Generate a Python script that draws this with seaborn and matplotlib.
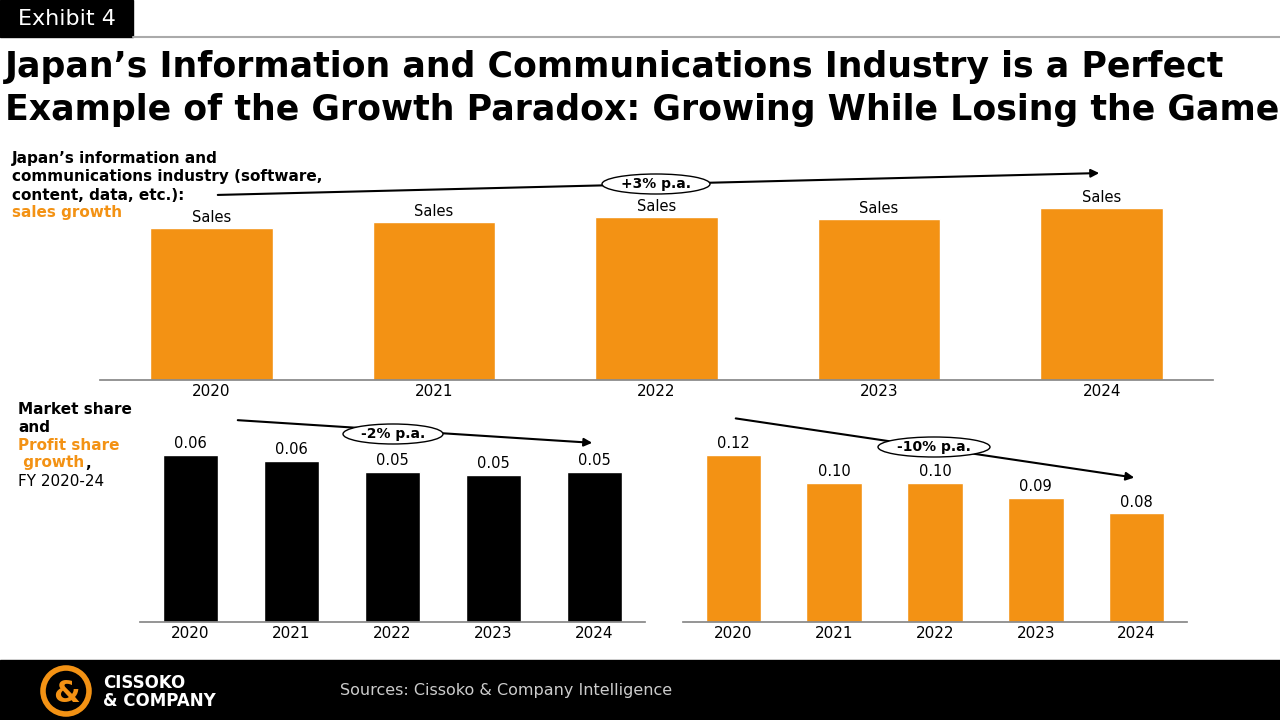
import matplotlib
matplotlib.use("Agg")
import matplotlib.pyplot as plt
import seaborn as sns
import pandas as pd
from matplotlib.patches import Ellipse, Rectangle

years = ["2020", "2021", "2022", "2023", "2024"]
sales_index = [152, 158, 163, 161, 172]
market_share = [0.060, 0.058, 0.054, 0.053, 0.054]
profit_share = [0.12, 0.10, 0.10, 0.089, 0.078]

orange = "#F39214"
sns.set_theme(style="white")
plt.rcParams["font.family"] = ["DejaVu Sans"]
plt.rcParams["text.color"] = "black"
plt.rcParams["xtick.color"] = "black"

W, H = 1280, 720
fig = plt.figure(figsize=(12.8, 7.2), dpi=100)


def box(x0, y0, x1, y1):
    return [x0 / W, 1 - y1 / H, (x1 - x0) / W, (y1 - y0) / H]


# overlay axes in pixel coordinates
ov = fig.add_axes([0, 0, 1, 1])
ov.set_xlim(0, W)
ov.set_ylim(H, 0)
ov.axis("off")

ov.add_patch(Rectangle((0, 0), 133, 37, color="black"))
ov.text(18, 19, "Exhibit 4", color="white", fontsize=16, va="center")
ov.plot([133, 1280], [37, 37], color="#aaaaaa", lw=1.5)
ov.text(5, 67, "Japan’s Information and Communications Industry is a Perfect",
        fontsize=25, fontweight="bold", va="center")
ov.text(5, 110, "Example of the Growth Paradox: Growing While Losing the Game",
        fontsize=25, fontweight="bold", va="center")

bold = dict(fontsize=11, fontweight="bold", va="center")
ov.text(12, 159, "Japan’s information and", **bold)
ov.text(12, 177, "communications industry (software,", **bold)
ov.text(12, 195, "content, data, etc.):", **bold)
ov.text(12, 213, "sales growth", color=orange, **bold)

ov.text(18, 409, "Market share", **bold)
ov.text(18, 427, "and", **bold)
ov.text(18, 445, "Profit share", color=orange, **bold)
ov.text(18, 463, " growth", color=orange, **bold)
ov.text(85, 463, ",", **bold)
ov.text(18, 481, "FY 2020-24", fontsize=11, va="center")

# footer
ov.add_patch(Rectangle((0, 660), W, 60, color="black"))
ov.add_patch(Ellipse((66, 691), 46, 46, fill=False, ec=orange, lw=4))
ov.text(66, 693, "&", color=orange, fontsize=22, fontweight="bold", ha="center", va="center")
ov.text(103, 683, "CISSOKO", color="white", fontsize=12, fontweight="bold", va="center")
ov.text(103, 701, "& COMPANY", color="white", fontsize=12, fontweight="bold", va="center")
ov.text(340, 691, "Sources: Cissoko & Company Intelligence", color="#cccccc", fontsize=11.5, va="center")


def bars(rect, values, color, ymax, labels):
    ax = fig.add_axes(rect)
    df = pd.DataFrame({"year": years, "v": values})
    sns.barplot(data=df, x="year", y="v", color=color, width=0.55, ax=ax, saturation=1)
    ax.set_ylim(0, ymax)
    ax.set_xlabel("")
    ax.set_ylabel("")
    ax.set_yticks([])
    for s in ["top", "left", "right"]:
        ax.spines[s].set_visible(False)
    ax.spines["bottom"].set_color("#888888")
    ax.tick_params(axis="x", labelsize=11, length=0, pad=3)
    for i, (v, lab) in enumerate(zip(values, labels)):
        ax.text(i, v + ymax * 0.015, lab, ha="center", va="bottom", fontsize=10.5)
    ax.patch.set_alpha(0)
    return ax


bars(box(100, 150, 1213, 380), sales_index, orange, 230, ["Sales"] * 5)
bars(box(140, 380, 645, 622), market_share, "black", 242 / 2783,
     [f"{v:.2f}" for v in market_share])
bars(box(683, 380, 1187, 622), profit_share, orange, 242 / 1392,
     [f"{v:.2f}" for v in profit_share])

ov.set_zorder(10)


def trend(x0, y0, x1, y1, lab, ex, ey, ew):
    ov.annotate("", xy=(x1, y1), xytext=(x0, y0), zorder=2,
                arrowprops=dict(arrowstyle="-|>", color="black", lw=1.5, mutation_scale=12))
    ov.add_patch(Ellipse((ex, ey), ew, 20, fc="white", ec="black", lw=1, zorder=3))
    ov.text(ex, ey, lab, ha="center", va="center", fontsize=10, fontweight="bold", zorder=4)


trend(215, 195, 1102, 173, "+3% p.a.", 656, 184, 108)
trend(235, 420, 595, 443, "-2% p.a.", 393, 434, 100)
trend(733, 418, 1137, 478, "-10% p.a.", 934, 447, 112)

fig.savefig("out.png", dpi=100)
